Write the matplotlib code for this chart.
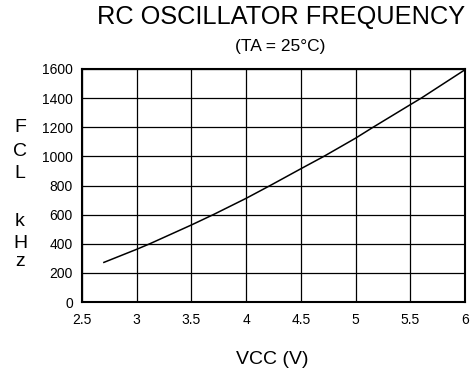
import matplotlib
matplotlib.use("Agg")
import matplotlib.pyplot as plt

plt.rcParams['font.family'] = ['Liberation Sans', 'DejaVu Sans']

vcc = [2.7, 3.0, 3.12, 3.5, 3.7, 4.0, 4.22, 4.5, 4.71, 5.0, 5.16, 5.5, 5.6, 6.0]
fcl = [272, 362, 400, 529, 600, 712, 800, 915, 1000, 1125, 1200, 1355, 1400, 1595]
xticks = [2.5, 3, 3.5, 4, 4.5, 5, 5.5, 6]
xticklabels = ['2.5', '3', '3.5', '4', '4.5', '5', '5.5', '6']
yticks = [0, 200, 400, 600, 800, 1000, 1200, 1400, 1600]
ylabel_letters = ['F', 'C', 'L', '', 'k', 'H', 'z']
title = 'RC OSCILLATOR FREQUENCY'
subtitle = '(TA = 25°C)'
xlabel = 'VCC (V)'

W, H = 474, 373
fig = plt.figure(figsize=(W / 100, H / 100), dpi=100)
ax = fig.add_axes([82 / W, 1 - 302 / H, (465 - 82) / W, (302 - 69) / H])

ax.plot(vcc, fcl, color='black', lw=1.1)
ax.set_xlim(2.5, 6)
ax.set_ylim(0, 1600)
ax.set_xticks(xticks)
ax.set_xticklabels(xticklabels)
ax.set_yticks(yticks)
ax.grid(True, color='black', lw=0.9)
ax.tick_params(axis='y', length=0, labelsize=10, pad=6.5, colors='black')
ax.tick_params(axis='x', length=0, labelsize=10, pad=8, colors='black')
for s in ax.spines.values():
    s.set_linewidth(1.5)

fig.text(281 / W, 1 - 17 / H, title, ha='center', va='center', fontsize=18.3)
fig.text(280 / W, 1 - 47 / H, subtitle, ha='center', va='center', fontsize=12.5)
fig.text(272 / W, 1 - 360 / H, xlabel, ha='center', va='center', fontsize=14)

ys = [128, 151, 173, 197, 222, 243, 262]
for letter, y in zip(ylabel_letters, ys):
    if letter:
        fig.text(20 / W, 1 - y / H, letter, ha='center', va='center', fontsize=14)

fig.savefig('out.png', dpi=100)
